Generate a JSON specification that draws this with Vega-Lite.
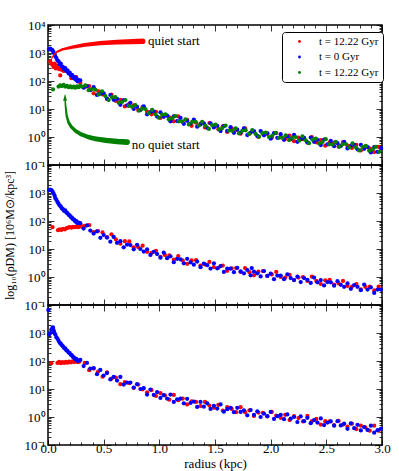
{
"$schema": "https://vega.github.io/schema/vega-lite/v6.json",
"autosize": {"type": "pad"},
"padding": {"left": 2, "top": 18, "right": 17, "bottom": 0},
"background": "white",
"bounds": "flush",
"spacing": 0,
"config": {
  "view": {"stroke": "black", "strokeWidth": 1.5},
  "font": "Liberation Serif",
  "axis": {"labelFont": "Liberation Serif", "labelFontSize": 13, "labelColor": "black", "titleFont": "Liberation Serif", "titleFontSize": 13, "titleFontWeight": "normal", "titleColor": "black", "tickColor": "black", "tickWidth": 0.8, "grid": false, "domain": false, "labelOverlap": false, "labelFlush": false, "labelBound": false}
},
"datasets": {
"pts": [
{"p":1,"s":"A","r":0.02,"l":2.7},{"p":1,"s":"A","r":0.03,"l":2.62},{"p":1,"s":"A","r":0.04,"l":2.58},{"p":1,"s":"A","r":0.05,"l":2.5},{"p":1,"s":"A","r":0.06,"l":2.62},{"p":1,"s":"A","r":0.07,"l":2.45},{"p":1,"s":"A","r":0.08,"l":2.55},{"p":1,"s":"A","r":0.09,"l":2.48},{"p":1,"s":"A","r":0.1,"l":2.42},{"p":1,"s":"A","r":0.11,"l":2.2},{"p":1,"s":"A","r":0.12,"l":2.4},{"p":1,"s":"A","r":0.13,"l":2.44},{"p":1,"s":"A","r":0.14,"l":2.36},{"p":1,"s":"A","r":0.15,"l":2.38},
{"p":1,"s":"A","r":0.17,"l":2.35},{"p":1,"s":"A","r":0.21,"l":2.1},{"p":1,"s":"A","r":0.25,"l":2.15},{"p":1,"s":"A","r":0.29,"l":1.93},{"p":1,"s":"A","r":0.33,"l":1.78},{"p":1,"s":"A","r":0.37,"l":1.82},{"p":1,"s":"A","r":0.41,"l":1.56},{"p":1,"s":"A","r":0.45,"l":1.64},{"p":1,"s":"A","r":0.49,"l":1.52},{"p":1,"s":"A","r":0.53,"l":1.36},{"p":1,"s":"A","r":0.57,"l":1.51},{"p":1,"s":"A","r":0.61,"l":1.29},{"p":1,"s":"A","r":0.65,"l":1.33},{"p":1,"s":"A","r":0.69,"l":1.09},{"p":1,"s":"A","r":0.73,"l":1.18},{"p":1,"s":"A","r":0.77,"l":1.13},{"p":1,"s":"A","r":0.81,"l":0.96},{"p":1,"s":"A","r":0.85,"l":1.08},{"p":1,"s":"A","r":0.89,"l":0.91},{"p":1,"s":"A","r":0.93,"l":0.81},{"p":1,"s":"A","r":0.97,"l":0.9},{"p":1,"s":"A","r":1.01,"l":0.68},{"p":1,"s":"A","r":1.05,"l":0.79},{"p":1,"s":"A","r":1.09,"l":0.7},{"p":1,"s":"A","r":1.13,"l":0.56},{"p":1,"s":"A","r":1.17,"l":0.74},{"p":1,"s":"A","r":1.21,"l":0.54},{"p":1,"s":"A","r":1.25,"l":0.61},{"p":1,"s":"A","r":1.29,"l":0.4},{"p":1,"s":"A","r":1.33,"l":0.51},{"p":1,"s":"A","r":1.37,"l":0.48},{"p":1,"s":"A","r":1.41,"l":0.34},{"p":1,"s":"A","r":1.45,"l":0.5},{"p":1,"s":"A","r":1.49,"l":0.36},{"p":1,"s":"A","r":1.53,"l":0.28},{"p":1,"s":"A","r":1.57,"l":0.38},{"p":1,"s":"A","r":1.61,"l":0.18},{"p":1,"s":"A","r":1.65,"l":0.31},{"p":1,"s":"A","r":1.69,"l":0.25},{"p":1,"s":"A","r":1.73,"l":0.12},{"p":1,"s":"A","r":1.77,"l":0.31},{"p":1,"s":"A","r":1.81,"l":0.12},{"p":1,"s":"A","r":1.85,"l":0.2},{"p":1,"s":"A","r":1.89,"l":0.0},{"p":1,"s":"A","r":1.93,"l":0.12},{"p":1,"s":"A","r":1.97,"l":0.11},{"p":1,"s":"A","r":2.01,"l":-0.03},{"p":1,"s":"A","r":2.05,"l":0.14},{"p":1,"s":"A","r":2.09,"l":0.0},{"p":1,"s":"A","r":2.13,"l":-0.07},{"p":1,"s":"A","r":2.17,"l":0.05},{"p":1,"s":"A","r":2.21,"l":-0.15},{"p":1,"s":"A","r":2.25,"l":-0.02},{"p":1,"s":"A","r":2.29,"l":-0.08},{"p":1,"s":"A","r":2.33,"l":-0.2},{"p":1,"s":"A","r":2.37,"l":0.0},{"p":1,"s":"A","r":2.41,"l":-0.19},{"p":1,"s":"A","r":2.45,"l":-0.11},{"p":1,"s":"A","r":2.49,"l":-0.31},{"p":1,"s":"A","r":2.53,"l":-0.19},{"p":1,"s":"A","r":2.57,"l":-0.2},{"p":1,"s":"A","r":2.61,"l":-0.34},{"p":1,"s":"A","r":2.65,"l":-0.18},{"p":1,"s":"A","r":2.69,"l":-0.31},{"p":1,"s":"A","r":2.73,"l":-0.39},{"p":1,"s":"A","r":2.77,"l":-0.28},{"p":1,"s":"A","r":2.81,"l":-0.48},{"p":1,"s":"A","r":2.85,"l":-0.35},{"p":1,"s":"A","r":2.89,"l":-0.41},{"p":1,"s":"A","r":2.93,"l":-0.54},{"p":1,"s":"A","r":2.97,"l":-0.35},
{"p":1,"s":"B","r":0.01,"l":3.13},{"p":1,"s":"B","r":0.02,"l":3.16},{"p":1,"s":"B","r":0.03,"l":3.12},{"p":1,"s":"B","r":0.04,"l":3.1},{"p":1,"s":"B","r":0.05,"l":3.03},{"p":1,"s":"B","r":0.06,"l":2.95},{"p":1,"s":"B","r":0.065,"l":2.88},{"p":1,"s":"B","r":0.075,"l":2.82},{"p":1,"s":"B","r":0.085,"l":2.74},{"p":1,"s":"B","r":0.095,"l":2.7},{"p":1,"s":"B","r":0.105,"l":2.6},{"p":1,"s":"B","r":0.115,"l":2.62},{"p":1,"s":"B","r":0.125,"l":2.52},{"p":1,"s":"B","r":0.135,"l":2.5},{"p":1,"s":"B","r":0.145,"l":2.42},{"p":1,"s":"B","r":0.155,"l":2.46},{"p":1,"s":"B","r":0.165,"l":2.36},{"p":1,"s":"B","r":0.175,"l":2.38},{"p":1,"s":"B","r":0.185,"l":2.27},{"p":1,"s":"B","r":0.195,"l":2.3},{"p":1,"s":"B","r":0.205,"l":2.2},{"p":1,"s":"B","r":0.215,"l":2.22},{"p":1,"s":"B","r":0.225,"l":2.12},{"p":1,"s":"B","r":0.235,"l":2.15},{"p":1,"s":"B","r":0.245,"l":2.06},{"p":1,"s":"B","r":0.255,"l":2.1},{"p":1,"s":"B","r":0.265,"l":1.99},{"p":1,"s":"B","r":0.275,"l":2.03},
{"p":1,"s":"B","r":0.29,"l":2.02},{"p":1,"s":"B","r":0.32,"l":1.76},{"p":1,"s":"B","r":0.35,"l":1.82},{"p":1,"s":"B","r":0.38,"l":1.67},{"p":1,"s":"B","r":0.41,"l":1.78},{"p":1,"s":"B","r":0.44,"l":1.5},{"p":1,"s":"B","r":0.47,"l":1.55},{"p":1,"s":"B","r":0.5,"l":1.56},{"p":1,"s":"B","r":0.53,"l":1.37},{"p":1,"s":"B","r":0.56,"l":1.5},{"p":1,"s":"B","r":0.59,"l":1.33},{"p":1,"s":"B","r":0.62,"l":1.36},{"p":1,"s":"B","r":0.65,"l":1.15},{"p":1,"s":"B","r":0.68,"l":1.32},{"p":1,"s":"B","r":0.71,"l":1.13},{"p":1,"s":"B","r":0.74,"l":1.22},{"p":1,"s":"B","r":0.77,"l":1.0},{"p":1,"s":"B","r":0.8,"l":1.08},{"p":1,"s":"B","r":0.83,"l":0.96},{"p":1,"s":"B","r":0.86,"l":1.09},{"p":1,"s":"B","r":0.89,"l":0.81},{"p":1,"s":"B","r":0.92,"l":0.89},{"p":1,"s":"B","r":0.95,"l":0.91},{"p":1,"s":"B","r":0.98,"l":0.73},{"p":1,"s":"B","r":1.01,"l":0.88},{"p":1,"s":"B","r":1.04,"l":0.72},{"p":1,"s":"B","r":1.07,"l":0.76},{"p":1,"s":"B","r":1.1,"l":0.56},{"p":1,"s":"B","r":1.13,"l":0.74},{"p":1,"s":"B","r":1.16,"l":0.57},{"p":1,"s":"B","r":1.19,"l":0.68},{"p":1,"s":"B","r":1.22,"l":0.47},{"p":1,"s":"B","r":1.25,"l":0.58},{"p":1,"s":"B","r":1.28,"l":0.48},{"p":1,"s":"B","r":1.31,"l":0.62},{"p":1,"s":"B","r":1.34,"l":0.37},{"p":1,"s":"B","r":1.37,"l":0.45},{"p":1,"s":"B","r":1.4,"l":0.49},{"p":1,"s":"B","r":1.43,"l":0.33},{"p":1,"s":"B","r":1.46,"l":0.49},{"p":1,"s":"B","r":1.49,"l":0.34},{"p":1,"s":"B","r":1.52,"l":0.4},{"p":1,"s":"B","r":1.55,"l":0.21},{"p":1,"s":"B","r":1.58,"l":0.39},{"p":1,"s":"B","r":1.61,"l":0.22},{"p":1,"s":"B","r":1.64,"l":0.35},{"p":1,"s":"B","r":1.67,"l":0.15},{"p":1,"s":"B","r":1.7,"l":0.26},{"p":1,"s":"B","r":1.73,"l":0.16},{"p":1,"s":"B","r":1.76,"l":0.31},{"p":1,"s":"B","r":1.79,"l":0.07},{"p":1,"s":"B","r":1.82,"l":0.16},{"p":1,"s":"B","r":1.85,"l":0.2},{"p":1,"s":"B","r":1.88,"l":0.04},{"p":1,"s":"B","r":1.91,"l":0.21},{"p":1,"s":"B","r":1.94,"l":0.06},{"p":1,"s":"B","r":1.97,"l":0.13},{"p":1,"s":"B","r":2.0,"l":-0.06},{"p":1,"s":"B","r":2.03,"l":0.14},{"p":1,"s":"B","r":2.06,"l":-0.03},{"p":1,"s":"B","r":2.09,"l":0.1},{"p":1,"s":"B","r":2.12,"l":-0.1},{"p":1,"s":"B","r":2.15,"l":0.02},{"p":1,"s":"B","r":2.18,"l":-0.08},{"p":1,"s":"B","r":2.21,"l":0.08},{"p":1,"s":"B","r":2.24,"l":-0.17},{"p":1,"s":"B","r":2.27,"l":-0.08},{"p":1,"s":"B","r":2.3,"l":-0.03},{"p":1,"s":"B","r":2.33,"l":-0.19},{"p":1,"s":"B","r":2.36,"l":-0.02},{"p":1,"s":"B","r":2.39,"l":-0.17},{"p":1,"s":"B","r":2.42,"l":-0.1},{"p":1,"s":"B","r":2.45,"l":-0.29},{"p":1,"s":"B","r":2.48,"l":-0.09},{"p":1,"s":"B","r":2.51,"l":-0.26},{"p":1,"s":"B","r":2.54,"l":-0.14},{"p":1,"s":"B","r":2.57,"l":-0.33},{"p":1,"s":"B","r":2.6,"l":-0.22},{"p":1,"s":"B","r":2.63,"l":-0.32},{"p":1,"s":"B","r":2.66,"l":-0.17},{"p":1,"s":"B","r":2.69,"l":-0.41},{"p":1,"s":"B","r":2.72,"l":-0.32},{"p":1,"s":"B","r":2.75,"l":-0.28},{"p":1,"s":"B","r":2.78,"l":-0.44},{"p":1,"s":"B","r":2.81,"l":-0.28},{"p":1,"s":"B","r":2.84,"l":-0.42},{"p":1,"s":"B","r":2.87,"l":-0.36},{"p":1,"s":"B","r":2.9,"l":-0.55},{"p":1,"s":"B","r":2.93,"l":-0.36},{"p":1,"s":"B","r":2.96,"l":-0.53},{"p":1,"s":"B","r":2.99,"l":-0.4},
{"p":1,"s":"C","r":0.045,"l":1.7},{"p":1,"s":"C","r":0.095,"l":1.8},{"p":1,"s":"C","r":0.11,"l":1.84},{"p":1,"s":"C","r":0.125,"l":1.82},{"p":1,"s":"C","r":0.14,"l":1.86},{"p":1,"s":"C","r":0.155,"l":1.8},{"p":1,"s":"C","r":0.17,"l":1.83},{"p":1,"s":"C","r":0.185,"l":1.78},{"p":1,"s":"C","r":0.2,"l":1.81},{"p":1,"s":"C","r":0.215,"l":1.77},{"p":1,"s":"C","r":0.23,"l":1.8},{"p":1,"s":"C","r":0.245,"l":1.76},{"p":1,"s":"C","r":0.26,"l":1.81},{"p":1,"s":"C","r":0.275,"l":1.78},{"p":1,"s":"C","r":0.29,"l":1.83},
{"p":1,"s":"C","r":0.305,"l":1.8},{"p":1,"s":"C","r":0.335,"l":1.84},{"p":1,"s":"C","r":0.365,"l":1.67},{"p":1,"s":"C","r":0.395,"l":1.71},{"p":1,"s":"C","r":0.425,"l":1.69},{"p":1,"s":"C","r":0.455,"l":1.52},{"p":1,"s":"C","r":0.485,"l":1.63},{"p":1,"s":"C","r":0.515,"l":1.46},{"p":1,"s":"C","r":0.545,"l":1.32},{"p":1,"s":"C","r":0.575,"l":1.42},{"p":1,"s":"C","r":0.605,"l":1.42},{"p":1,"s":"C","r":0.635,"l":1.22},{"p":1,"s":"C","r":0.665,"l":1.25},{"p":1,"s":"C","r":0.695,"l":1.32},{"p":1,"s":"C","r":0.725,"l":1.11},{"p":1,"s":"C","r":0.755,"l":1.08},{"p":1,"s":"C","r":0.785,"l":1.14},{"p":1,"s":"C","r":0.815,"l":0.94},{"p":1,"s":"C","r":0.845,"l":1.01},{"p":1,"s":"C","r":0.875,"l":1.0},{"p":1,"s":"C","r":0.905,"l":0.85},{"p":1,"s":"C","r":0.935,"l":0.97},{"p":1,"s":"C","r":0.965,"l":0.81},{"p":1,"s":"C","r":0.995,"l":0.69},{"p":1,"s":"C","r":1.025,"l":0.8},{"p":1,"s":"C","r":1.055,"l":0.81},{"p":1,"s":"C","r":1.085,"l":0.63},{"p":1,"s":"C","r":1.115,"l":0.67},{"p":1,"s":"C","r":1.145,"l":0.75},{"p":1,"s":"C","r":1.175,"l":0.56},{"p":1,"s":"C","r":1.205,"l":0.55},{"p":1,"s":"C","r":1.235,"l":0.63},{"p":1,"s":"C","r":1.265,"l":0.45},{"p":1,"s":"C","r":1.295,"l":0.54},{"p":1,"s":"C","r":1.325,"l":0.54},{"p":1,"s":"C","r":1.355,"l":0.41},{"p":1,"s":"C","r":1.385,"l":0.54},{"p":1,"s":"C","r":1.415,"l":0.4},{"p":1,"s":"C","r":1.445,"l":0.29},{"p":1,"s":"C","r":1.475,"l":0.42},{"p":1,"s":"C","r":1.505,"l":0.44},{"p":1,"s":"C","r":1.535,"l":0.27},{"p":1,"s":"C","r":1.565,"l":0.32},{"p":1,"s":"C","r":1.595,"l":0.41},{"p":1,"s":"C","r":1.625,"l":0.23},{"p":1,"s":"C","r":1.655,"l":0.22},{"p":1,"s":"C","r":1.685,"l":0.31},{"p":1,"s":"C","r":1.715,"l":0.13},{"p":1,"s":"C","r":1.745,"l":0.22},{"p":1,"s":"C","r":1.775,"l":0.24},{"p":1,"s":"C","r":1.805,"l":0.11},{"p":1,"s":"C","r":1.835,"l":0.25},{"p":1,"s":"C","r":1.865,"l":0.11},{"p":1,"s":"C","r":1.895,"l":0.01},{"p":1,"s":"C","r":1.925,"l":0.14},{"p":1,"s":"C","r":1.955,"l":0.16},{"p":1,"s":"C","r":1.985,"l":0.0},{"p":1,"s":"C","r":2.015,"l":0.05},{"p":1,"s":"C","r":2.045,"l":0.15},{"p":1,"s":"C","r":2.075,"l":-0.03},{"p":1,"s":"C","r":2.105,"l":-0.03},{"p":1,"s":"C","r":2.135,"l":0.06},{"p":1,"s":"C","r":2.165,"l":-0.11},{"p":1,"s":"C","r":2.195,"l":-0.02},{"p":1,"s":"C","r":2.225,"l":0.0},{"p":1,"s":"C","r":2.255,"l":-0.13},{"p":1,"s":"C","r":2.285,"l":0.02},{"p":1,"s":"C","r":2.315,"l":-0.12},{"p":1,"s":"C","r":2.345,"l":-0.22},{"p":1,"s":"C","r":2.375,"l":-0.09},{"p":1,"s":"C","r":2.405,"l":-0.06},{"p":1,"s":"C","r":2.435,"l":-0.23},{"p":1,"s":"C","r":2.465,"l":-0.18},{"p":1,"s":"C","r":2.495,"l":-0.08},{"p":1,"s":"C","r":2.525,"l":-0.26},{"p":1,"s":"C","r":2.555,"l":-0.27},{"p":1,"s":"C","r":2.585,"l":-0.17},{"p":1,"s":"C","r":2.615,"l":-0.35},{"p":1,"s":"C","r":2.645,"l":-0.26},{"p":1,"s":"C","r":2.675,"l":-0.25},{"p":1,"s":"C","r":2.705,"l":-0.37},{"p":1,"s":"C","r":2.735,"l":-0.23},{"p":1,"s":"C","r":2.765,"l":-0.37},{"p":1,"s":"C","r":2.795,"l":-0.48},{"p":1,"s":"C","r":2.825,"l":-0.35},{"p":1,"s":"C","r":2.855,"l":-0.32},{"p":1,"s":"C","r":2.885,"l":-0.49},{"p":1,"s":"C","r":2.915,"l":-0.44},{"p":1,"s":"C","r":2.945,"l":-0.35},{"p":1,"s":"C","r":2.975,"l":-0.53},
{"p":2,"s":"A","r":0.04,"l":1.78},{"p":2,"s":"A","r":0.09,"l":1.67},{"p":2,"s":"A","r":0.105,"l":1.7},{"p":2,"s":"A","r":0.12,"l":1.68},{"p":2,"s":"A","r":0.135,"l":1.72},{"p":2,"s":"A","r":0.15,"l":1.7},{"p":2,"s":"A","r":0.165,"l":1.74},{"p":2,"s":"A","r":0.18,"l":1.76},{"p":2,"s":"A","r":0.195,"l":1.78},{"p":2,"s":"A","r":0.21,"l":1.76},{"p":2,"s":"A","r":0.225,"l":1.79},{"p":2,"s":"A","r":0.24,"l":1.78},{"p":2,"s":"A","r":0.255,"l":1.8},{"p":2,"s":"A","r":0.27,"l":1.78},{"p":2,"s":"A","r":0.285,"l":1.8},{"p":2,"s":"A","r":0.3,"l":1.82},{"p":2,"s":"A","r":0.315,"l":1.78},
{"p":2,"s":"A","r":0.33,"l":1.83},{"p":2,"s":"A","r":0.37,"l":1.85},{"p":2,"s":"A","r":0.41,"l":1.6},{"p":2,"s":"A","r":0.45,"l":1.64},{"p":2,"s":"A","r":0.49,"l":1.59},{"p":2,"s":"A","r":0.53,"l":1.42},{"p":2,"s":"A","r":0.57,"l":1.52},{"p":2,"s":"A","r":0.61,"l":1.34},{"p":2,"s":"A","r":0.65,"l":1.19},{"p":2,"s":"A","r":0.69,"l":1.28},{"p":2,"s":"A","r":0.73,"l":1.27},{"p":2,"s":"A","r":0.77,"l":1.06},{"p":2,"s":"A","r":0.81,"l":1.07},{"p":2,"s":"A","r":0.85,"l":1.12},{"p":2,"s":"A","r":0.89,"l":0.9},{"p":2,"s":"A","r":0.93,"l":0.86},{"p":2,"s":"A","r":0.97,"l":0.93},{"p":2,"s":"A","r":1.01,"l":0.72},{"p":2,"s":"A","r":1.05,"l":0.79},{"p":2,"s":"A","r":1.09,"l":0.77},{"p":2,"s":"A","r":1.13,"l":0.62},{"p":2,"s":"A","r":1.17,"l":0.75},{"p":2,"s":"A","r":1.21,"l":0.59},{"p":2,"s":"A","r":1.25,"l":0.47},{"p":2,"s":"A","r":1.29,"l":0.59},{"p":2,"s":"A","r":1.33,"l":0.6},{"p":2,"s":"A","r":1.37,"l":0.41},{"p":2,"s":"A","r":1.41,"l":0.45},{"p":2,"s":"A","r":1.45,"l":0.54},{"p":2,"s":"A","r":1.49,"l":0.35},{"p":2,"s":"A","r":1.53,"l":0.33},{"p":2,"s":"A","r":1.57,"l":0.41},{"p":2,"s":"A","r":1.61,"l":0.22},{"p":2,"s":"A","r":1.65,"l":0.31},{"p":2,"s":"A","r":1.69,"l":0.32},{"p":2,"s":"A","r":1.73,"l":0.18},{"p":2,"s":"A","r":1.77,"l":0.32},{"p":2,"s":"A","r":1.81,"l":0.17},{"p":2,"s":"A","r":1.85,"l":0.06},{"p":2,"s":"A","r":1.89,"l":0.19},{"p":2,"s":"A","r":1.93,"l":0.21},{"p":2,"s":"A","r":1.97,"l":0.04},{"p":2,"s":"A","r":2.01,"l":0.09},{"p":2,"s":"A","r":2.05,"l":0.18},{"p":2,"s":"A","r":2.09,"l":0.0},{"p":2,"s":"A","r":2.13,"l":-0.02},{"p":2,"s":"A","r":2.17,"l":0.08},{"p":2,"s":"A","r":2.21,"l":-0.11},{"p":2,"s":"A","r":2.25,"l":-0.02},{"p":2,"s":"A","r":2.29,"l":0.0},{"p":2,"s":"A","r":2.33,"l":-0.14},{"p":2,"s":"A","r":2.37,"l":0.01},{"p":2,"s":"A","r":2.41,"l":-0.14},{"p":2,"s":"A","r":2.45,"l":-0.25},{"p":2,"s":"A","r":2.49,"l":-0.12},{"p":2,"s":"A","r":2.53,"l":-0.1},{"p":2,"s":"A","r":2.57,"l":-0.27},{"p":2,"s":"A","r":2.61,"l":-0.23},{"p":2,"s":"A","r":2.65,"l":-0.14},{"p":2,"s":"A","r":2.69,"l":-0.32},{"p":2,"s":"A","r":2.73,"l":-0.34},{"p":2,"s":"A","r":2.77,"l":-0.25},{"p":2,"s":"A","r":2.81,"l":-0.44},{"p":2,"s":"A","r":2.85,"l":-0.35},{"p":2,"s":"A","r":2.89,"l":-0.34},{"p":2,"s":"A","r":2.93,"l":-0.48},{"p":2,"s":"A","r":2.97,"l":-0.34},
{"p":2,"s":"B","r":0.01,"l":3.1},{"p":2,"s":"B","r":0.02,"l":3.12},{"p":2,"s":"B","r":0.03,"l":3.1},{"p":2,"s":"B","r":0.04,"l":3.06},{"p":2,"s":"B","r":0.05,"l":2.98},{"p":2,"s":"B","r":0.06,"l":2.9},{"p":2,"s":"B","r":0.065,"l":2.82},{"p":2,"s":"B","r":0.075,"l":2.76},{"p":2,"s":"B","r":0.085,"l":2.68},{"p":2,"s":"B","r":0.095,"l":2.62},{"p":2,"s":"B","r":0.105,"l":2.55},{"p":2,"s":"B","r":0.115,"l":2.52},{"p":2,"s":"B","r":0.125,"l":2.45},{"p":2,"s":"B","r":0.135,"l":2.42},{"p":2,"s":"B","r":0.145,"l":2.36},{"p":2,"s":"B","r":0.155,"l":2.38},{"p":2,"s":"B","r":0.165,"l":2.3},{"p":2,"s":"B","r":0.175,"l":2.28},{"p":2,"s":"B","r":0.185,"l":2.22},{"p":2,"s":"B","r":0.195,"l":2.2},{"p":2,"s":"B","r":0.205,"l":2.14},{"p":2,"s":"B","r":0.215,"l":2.12},{"p":2,"s":"B","r":0.225,"l":2.06},{"p":2,"s":"B","r":0.235,"l":2.05},{"p":2,"s":"B","r":0.245,"l":1.98},{"p":2,"s":"B","r":0.255,"l":2.0},{"p":2,"s":"B","r":0.265,"l":1.92},{"p":2,"s":"B","r":0.275,"l":1.94},
{"p":2,"s":"B","r":0.29,"l":1.92},{"p":2,"s":"B","r":0.32,"l":1.73},{"p":2,"s":"B","r":0.35,"l":1.84},{"p":2,"s":"B","r":0.38,"l":1.66},{"p":2,"s":"B","r":0.41,"l":1.55},{"p":2,"s":"B","r":0.44,"l":1.63},{"p":2,"s":"B","r":0.47,"l":1.4},{"p":2,"s":"B","r":0.5,"l":1.5},{"p":2,"s":"B","r":0.53,"l":1.41},{"p":2,"s":"B","r":0.56,"l":1.26},{"p":2,"s":"B","r":0.59,"l":1.43},{"p":2,"s":"B","r":0.62,"l":1.22},{"p":2,"s":"B","r":0.65,"l":1.28},{"p":2,"s":"B","r":0.68,"l":1.06},{"p":2,"s":"B","r":0.71,"l":1.16},{"p":2,"s":"B","r":0.74,"l":1.14},{"p":2,"s":"B","r":0.77,"l":0.99},{"p":2,"s":"B","r":0.8,"l":1.15},{"p":2,"s":"B","r":0.83,"l":1.0},{"p":2,"s":"B","r":0.86,"l":0.91},{"p":2,"s":"B","r":0.89,"l":0.99},{"p":2,"s":"B","r":0.92,"l":0.79},{"p":2,"s":"B","r":0.95,"l":0.9},{"p":2,"s":"B","r":0.98,"l":0.82},{"p":2,"s":"B","r":1.01,"l":0.69},{"p":2,"s":"B","r":1.04,"l":0.87},{"p":2,"s":"B","r":1.07,"l":0.67},{"p":2,"s":"B","r":1.1,"l":0.74},{"p":2,"s":"B","r":1.13,"l":0.53},{"p":2,"s":"B","r":1.16,"l":0.65},{"p":2,"s":"B","r":1.19,"l":0.63},{"p":2,"s":"B","r":1.22,"l":0.49},{"p":2,"s":"B","r":1.25,"l":0.65},{"p":2,"s":"B","r":1.28,"l":0.52},{"p":2,"s":"B","r":1.31,"l":0.44},{"p":2,"s":"B","r":1.34,"l":0.55},{"p":2,"s":"B","r":1.37,"l":0.35},{"p":2,"s":"B","r":1.4,"l":0.48},{"p":2,"s":"B","r":1.43,"l":0.42},{"p":2,"s":"B","r":1.46,"l":0.3},{"p":2,"s":"B","r":1.49,"l":0.49},{"p":2,"s":"B","r":1.52,"l":0.31},{"p":2,"s":"B","r":1.55,"l":0.39},{"p":2,"s":"B","r":1.58,"l":0.18},{"p":2,"s":"B","r":1.61,"l":0.3},{"p":2,"s":"B","r":1.64,"l":0.3},{"p":2,"s":"B","r":1.67,"l":0.17},{"p":2,"s":"B","r":1.7,"l":0.33},{"p":2,"s":"B","r":1.73,"l":0.2},{"p":2,"s":"B","r":1.76,"l":0.13},{"p":2,"s":"B","r":1.79,"l":0.25},{"p":2,"s":"B","r":1.82,"l":0.06},{"p":2,"s":"B","r":1.83,"l":0.32},{"p":2,"s":"B","r":1.85,"l":0.19},{"p":2,"s":"B","r":1.88,"l":0.13},{"p":2,"s":"B","r":1.91,"l":0.02},{"p":2,"s":"B","r":1.94,"l":0.21},{"p":2,"s":"B","r":1.97,"l":0.04},{"p":2,"s":"B","r":2.0,"l":0.12},{"p":2,"s":"B","r":2.03,"l":-0.08},{"p":2,"s":"B","r":2.06,"l":0.05},{"p":2,"s":"B","r":2.09,"l":0.05},{"p":2,"s":"B","r":2.12,"l":-0.08},{"p":2,"s":"B","r":2.15,"l":0.09},{"p":2,"s":"B","r":2.18,"l":-0.04},{"p":2,"s":"B","r":2.21,"l":-0.11},{"p":2,"s":"B","r":2.24,"l":0.01},{"p":2,"s":"B","r":2.27,"l":-0.18},{"p":2,"s":"B","r":2.3,"l":-0.04},{"p":2,"s":"B","r":2.33,"l":-0.1},{"p":2,"s":"B","r":2.36,"l":-0.21},{"p":2,"s":"B","r":2.39,"l":-0.02},{"p":2,"s":"B","r":2.42,"l":-0.19},{"p":2,"s":"B","r":2.45,"l":-0.11},{"p":2,"s":"B","r":2.48,"l":-0.3},{"p":2,"s":"B","r":2.51,"l":-0.18},{"p":2,"s":"B","r":2.54,"l":-0.19},{"p":2,"s":"B","r":2.57,"l":-0.31},{"p":2,"s":"B","r":2.6,"l":-0.15},{"p":2,"s":"B","r":2.63,"l":-0.28},{"p":2,"s":"B","r":2.66,"l":-0.35},{"p":2,"s":"B","r":2.69,"l":-0.23},{"p":2,"s":"B","r":2.72,"l":-0.42},{"p":2,"s":"B","r":2.75,"l":-0.29},{"p":2,"s":"B","r":2.78,"l":-0.35},{"p":2,"s":"B","r":2.81,"l":-0.47},{"p":2,"s":"B","r":2.84,"l":-0.27},{"p":2,"s":"B","r":2.87,"l":-0.45},{"p":2,"s":"B","r":2.9,"l":-0.37},{"p":2,"s":"B","r":2.93,"l":-0.57},{"p":2,"s":"B","r":2.96,"l":-0.45},{"p":2,"s":"B","r":2.99,"l":-0.45},
{"p":3,"s":"A","r":0.03,"l":1.92},{"p":3,"s":"A","r":0.085,"l":1.93},{"p":3,"s":"A","r":0.1,"l":1.97},{"p":3,"s":"A","r":0.115,"l":1.92},{"p":3,"s":"A","r":0.13,"l":1.96},{"p":3,"s":"A","r":0.145,"l":1.93},{"p":3,"s":"A","r":0.16,"l":1.97},{"p":3,"s":"A","r":0.175,"l":1.94},{"p":3,"s":"A","r":0.19,"l":1.98},{"p":3,"s":"A","r":0.205,"l":1.95},{"p":3,"s":"A","r":0.22,"l":1.99},{"p":3,"s":"A","r":0.235,"l":1.96},{"p":3,"s":"A","r":0.25,"l":2.0},{"p":3,"s":"A","r":0.265,"l":1.96},{"p":3,"s":"A","r":0.28,"l":1.97},
{"p":3,"s":"A","r":0.33,"l":1.93},{"p":3,"s":"A","r":0.37,"l":1.67},{"p":3,"s":"A","r":0.41,"l":1.73},{"p":3,"s":"A","r":0.45,"l":1.62},{"p":3,"s":"A","r":0.49,"l":1.44},{"p":3,"s":"A","r":0.53,"l":1.59},{"p":3,"s":"A","r":0.57,"l":1.37},{"p":3,"s":"A","r":0.61,"l":1.41},{"p":3,"s":"A","r":0.65,"l":1.17},{"p":3,"s":"A","r":0.69,"l":1.25},{"p":3,"s":"A","r":0.73,"l":1.21},{"p":3,"s":"A","r":0.77,"l":1.04},{"p":3,"s":"A","r":0.81,"l":1.16},{"p":3,"s":"A","r":0.85,"l":0.99},{"p":3,"s":"A","r":0.89,"l":0.88},{"p":3,"s":"A","r":0.93,"l":0.96},{"p":3,"s":"A","r":0.97,"l":0.75},{"p":3,"s":"A","r":1.01,"l":0.85},{"p":3,"s":"A","r":1.05,"l":0.77},{"p":3,"s":"A","r":1.09,"l":0.62},{"p":3,"s":"A","r":1.13,"l":0.79},{"p":3,"s":"A","r":1.17,"l":0.6},{"p":3,"s":"A","r":1.21,"l":0.66},{"p":3,"s":"A","r":1.25,"l":0.45},{"p":3,"s":"A","r":1.29,"l":0.56},{"p":3,"s":"A","r":1.33,"l":0.54},{"p":3,"s":"A","r":1.37,"l":0.39},{"p":3,"s":"A","r":1.41,"l":0.54},{"p":3,"s":"A","r":1.45,"l":0.41},{"p":3,"s":"A","r":1.49,"l":0.33},{"p":3,"s":"A","r":1.53,"l":0.43},{"p":3,"s":"A","r":1.57,"l":0.23},{"p":3,"s":"A","r":1.61,"l":0.35},{"p":3,"s":"A","r":1.65,"l":0.29},{"p":3,"s":"A","r":1.69,"l":0.17},{"p":3,"s":"A","r":1.73,"l":0.35},{"p":3,"s":"A","r":1.77,"l":0.17},{"p":3,"s":"A","r":1.81,"l":0.24},{"p":3,"s":"A","r":1.85,"l":0.04},{"p":3,"s":"A","r":1.89,"l":0.16},{"p":3,"s":"A","r":1.93,"l":0.15},{"p":3,"s":"A","r":1.97,"l":0.02},{"p":3,"s":"A","r":2.01,"l":0.18},{"p":3,"s":"A","r":2.05,"l":0.05},{"p":3,"s":"A","r":2.09,"l":-0.03},{"p":3,"s":"A","r":2.13,"l":0.08},{"p":3,"s":"A","r":2.17,"l":-0.11},{"p":3,"s":"A","r":2.21,"l":0.03},{"p":3,"s":"A","r":2.25,"l":-0.04},{"p":3,"s":"A","r":2.29,"l":-0.16},{"p":3,"s":"A","r":2.33,"l":0.04},{"p":3,"s":"A","r":2.37,"l":-0.15},{"p":3,"s":"A","r":2.41,"l":-0.07},{"p":3,"s":"A","r":2.45,"l":-0.27},{"p":3,"s":"A","r":2.49,"l":-0.15},{"p":3,"s":"A","r":2.53,"l":-0.16},{"p":3,"s":"A","r":2.57,"l":-0.29},{"p":3,"s":"A","r":2.61,"l":-0.14},{"p":3,"s":"A","r":2.65,"l":-0.27},{"p":3,"s":"A","r":2.69,"l":-0.34},{"p":3,"s":"A","r":2.73,"l":-0.24},{"p":3,"s":"A","r":2.77,"l":-0.43},{"p":3,"s":"A","r":2.81,"l":-0.31},{"p":3,"s":"A","r":2.85,"l":-0.37},{"p":3,"s":"A","r":2.89,"l":-0.49},{"p":3,"s":"A","r":2.93,"l":-0.31},{"p":3,"s":"A","r":2.97,"l":-0.49},
{"p":3,"s":"B","r":0.003,"l":3.82},{"p":3,"s":"B","r":0.01,"l":2.95},{"p":3,"s":"B","r":0.02,"l":3.0},{"p":3,"s":"B","r":0.03,"l":3.12},{"p":3,"s":"B","r":0.04,"l":3.18},{"p":3,"s":"B","r":0.045,"l":3.2},{"p":3,"s":"B","r":0.05,"l":3.1},{"p":3,"s":"B","r":0.055,"l":3.02},{"p":3,"s":"B","r":0.065,"l":2.95},{"p":3,"s":"B","r":0.075,"l":2.85},{"p":3,"s":"B","r":0.085,"l":2.8},{"p":3,"s":"B","r":0.095,"l":2.72},{"p":3,"s":"B","r":0.105,"l":2.65},{"p":3,"s":"B","r":0.115,"l":2.62},{"p":3,"s":"B","r":0.125,"l":2.56},{"p":3,"s":"B","r":0.135,"l":2.52},{"p":3,"s":"B","r":0.145,"l":2.46},{"p":3,"s":"B","r":0.155,"l":2.45},{"p":3,"s":"B","r":0.165,"l":2.38},{"p":3,"s":"B","r":0.175,"l":2.36},{"p":3,"s":"B","r":0.185,"l":2.3},{"p":3,"s":"B","r":0.195,"l":2.28},{"p":3,"s":"B","r":0.205,"l":2.22},{"p":3,"s":"B","r":0.215,"l":2.2},{"p":3,"s":"B","r":0.225,"l":2.14},{"p":3,"s":"B","r":0.235,"l":2.12},{"p":3,"s":"B","r":0.245,"l":2.06},{"p":3,"s":"B","r":0.255,"l":2.08},{"p":3,"s":"B","r":0.265,"l":2.0},{"p":3,"s":"B","r":0.275,"l":2.01},
{"p":3,"s":"B","r":0.29,"l":2.04},{"p":3,"s":"B","r":0.32,"l":1.82},{"p":3,"s":"B","r":0.35,"l":1.93},{"p":3,"s":"B","r":0.38,"l":1.73},{"p":3,"s":"B","r":0.41,"l":1.75},{"p":3,"s":"B","r":0.44,"l":1.53},{"p":3,"s":"B","r":0.47,"l":1.68},{"p":3,"s":"B","r":0.5,"l":1.48},{"p":3,"s":"B","r":0.53,"l":1.57},{"p":3,"s":"B","r":0.56,"l":1.34},{"p":3,"s":"B","r":0.59,"l":1.43},{"p":3,"s":"B","r":0.62,"l":1.3},{"p":3,"s":"B","r":0.65,"l":1.43},{"p":3,"s":"B","r":0.68,"l":1.16},{"p":3,"s":"B","r":0.71,"l":1.23},{"p":3,"s":"B","r":0.74,"l":1.23},{"p":3,"s":"B","r":0.77,"l":1.05},{"p":3,"s":"B","r":0.8,"l":1.17},{"p":3,"s":"B","r":0.83,"l":1.0},{"p":3,"s":"B","r":0.86,"l":1.03},{"p":3,"s":"B","r":0.89,"l":0.8},{"p":3,"s":"B","r":0.92,"l":0.98},{"p":3,"s":"B","r":0.95,"l":0.79},{"p":3,"s":"B","r":0.98,"l":0.89},{"p":3,"s":"B","r":1.01,"l":0.68},{"p":3,"s":"B","r":1.04,"l":0.78},{"p":3,"s":"B","r":1.07,"l":0.66},{"p":3,"s":"B","r":1.1,"l":0.8},{"p":3,"s":"B","r":1.13,"l":0.54},{"p":3,"s":"B","r":1.16,"l":0.63},{"p":3,"s":"B","r":1.19,"l":0.66},{"p":3,"s":"B","r":1.22,"l":0.49},{"p":3,"s":"B","r":1.25,"l":0.65},{"p":3,"s":"B","r":1.28,"l":0.5},{"p":3,"s":"B","r":1.31,"l":0.55},{"p":3,"s":"B","r":1.34,"l":0.36},{"p":3,"s":"B","r":1.37,"l":0.54},{"p":3,"s":"B","r":1.4,"l":0.37},{"p":3,"s":"B","r":1.43,"l":0.49},{"p":3,"s":"B","r":1.46,"l":0.29},{"p":3,"s":"B","r":1.49,"l":0.4},{"p":3,"s":"B","r":1.52,"l":0.3},{"p":3,"s":"B","r":1.55,"l":0.45},{"p":3,"s":"B","r":1.58,"l":0.19},{"p":3,"s":"B","r":1.61,"l":0.28},{"p":3,"s":"B","r":1.64,"l":0.33},{"p":3,"s":"B","r":1.67,"l":0.17},{"p":3,"s":"B","r":1.7,"l":0.33},{"p":3,"s":"B","r":1.73,"l":0.18},{"p":3,"s":"B","r":1.76,"l":0.24},{"p":3,"s":"B","r":1.79,"l":0.06},{"p":3,"s":"B","r":1.82,"l":0.25},{"p":3,"s":"B","r":1.85,"l":0.08},{"p":3,"s":"B","r":1.88,"l":0.2},{"p":3,"s":"B","r":1.91,"l":0.0},{"p":3,"s":"B","r":1.94,"l":0.12},{"p":3,"s":"B","r":1.97,"l":0.03},{"p":3,"s":"B","r":2.0,"l":0.18},{"p":3,"s":"B","r":2.03,"l":-0.07},{"p":3,"s":"B","r":2.06,"l":0.03},{"p":3,"s":"B","r":2.09,"l":0.08},{"p":3,"s":"B","r":2.12,"l":-0.08},{"p":3,"s":"B","r":2.15,"l":0.09},{"p":3,"s":"B","r":2.18,"l":-0.06},{"p":3,"s":"B","r":2.21,"l":0.0},{"p":3,"s":"B","r":2.24,"l":-0.18},{"p":3,"s":"B","r":2.27,"l":0.02},{"p":3,"s":"B","r":2.3,"l":-0.15},{"p":3,"s":"B","r":2.33,"l":-0.03},{"p":3,"s":"B","r":2.36,"l":-0.22},{"p":3,"s":"B","r":2.39,"l":-0.11},{"p":3,"s":"B","r":2.42,"l":-0.2},{"p":3,"s":"B","r":2.45,"l":-0.05},{"p":3,"s":"B","r":2.48,"l":-0.29},{"p":3,"s":"B","r":2.51,"l":-0.2},{"p":3,"s":"B","r":2.54,"l":-0.16},{"p":3,"s":"B","r":2.57,"l":-0.31},{"p":3,"s":"B","r":2.6,"l":-0.15},{"p":3,"s":"B","r":2.63,"l":-0.3},{"p":3,"s":"B","r":2.66,"l":-0.24},{"p":3,"s":"B","r":2.69,"l":-0.42},{"p":3,"s":"B","r":2.72,"l":-0.23},{"p":3,"s":"B","r":2.75,"l":-0.4},{"p":3,"s":"B","r":2.78,"l":-0.28},{"p":3,"s":"B","r":2.81,"l":-0.48},{"p":3,"s":"B","r":2.84,"l":-0.36},{"p":3,"s":"B","r":2.87,"l":-0.46},{"p":3,"s":"B","r":2.9,"l":-0.31},{"p":3,"s":"B","r":2.93,"l":-0.56},{"p":3,"s":"B","r":2.96,"l":-0.47},{"p":3,"s":"B","r":2.99,"l":-0.42}
],
"ra": [
{"o":1,"r":0.027,"l":2.75,"w":0.6},{"o":2,"r":0.05,"l":2.92,"w":1.3},{"o":3,"r":0.08,"l":3.04,"w":1.9},{"o":4,"r":0.13,"l":3.13,"w":2.5},{"o":5,"r":0.22,"l":3.21,"w":3.1},{"o":6,"r":0.33,"l":3.29,"w":3.7},{"o":7,"r":0.47,"l":3.35,"w":4.3},{"o":8,"r":0.62,"l":3.39,"w":4.9},{"o":9,"r":0.85,"l":3.42,"w":5.6}
],
"ga": [
{"o":1,"r":0.153,"l":1.38,"w":1.3},{"o":2,"r":0.158,"l":1.1,"w":1.8},{"o":3,"r":0.168,"l":0.75,"w":2.3},{"o":4,"r":0.185,"l":0.52,"w":2.8},{"o":5,"r":0.21,"l":0.36,"w":3.2},{"o":6,"r":0.25,"l":0.21,"w":3.6},{"o":7,"r":0.3,"l":0.09,"w":4.0},{"o":8,"r":0.36,"l":0.0,"w":4.4},{"o":9,"r":0.43,"l":-0.07,"w":4.8},{"o":10,"r":0.52,"l":-0.12,"w":5.1},{"o":11,"r":0.62,"l":-0.16,"w":5.4},{"o":12,"r":0.71,"l":-0.18,"w":5.7}
],
"gh": [{"r":0.153,"l":1.42}],
"txt": [{"r":0.898,"l":3.43,"t":"quiet start"},{"r":0.752,"l":-0.29,"t":"no quiet start"}]
},
"vconcat": [
{
"width": 334, "height": 140,
"resolve": {"axis": {"x": "independent", "y": "independent"}},
"layer": [
{"data": {"name": "pts"}, "transform": [{"filter": "datum.p == 1"}],
 "mark": {"type": "point", "filled": true, "size": 18, "opacity": 1, "strokeWidth": 0},
 "encoding": {
  "x": {"field": "r", "type": "quantitative", "scale": {"domain": [0, 3], "nice": false, "zero": false},
        "axis": {"orient": "bottom", "values": [0,0.1,0.2,0.3,0.4,0.5,0.6,0.7,0.8,0.9,1,1.1,1.2,1.3,1.4,1.5,1.6,1.7,1.8,1.9,2,2.1,2.2,2.3,2.4,2.5,2.6,2.7,2.8,2.9,3], "labels": false, "title": null,
                 "tickSize": {"condition": {"test": "abs(datum.value*2-round(datum.value*2))<0.001", "value": -6}, "value": -3}}},
  "y": {"field": "l", "type": "quantitative", "scale": {"domain": [-1, 4], "nice": false, "zero": false},
        "axis": {"orient": "left", "values": [-1,-0.69897,-0.52288,-0.39794,-0.30103,-0.22185,-0.1549,-0.09691,-0.04576,0,0.30103,0.47712,0.60206,0.69897,0.77815,0.8451,0.90309,0.95424,1,1.30103,1.47712,1.60206,1.69897,1.77815,1.8451,1.90309,1.95424,2,2.30103,2.47712,2.60206,2.69897,2.77815,2.8451,2.90309,2.95424,3,3.30103,3.47712,3.60206,3.69897,3.77815,3.8451,3.90309,3.95424,4], "title": null,
                 "labelExpr": "abs(datum.value-round(datum.value))<0.001 ? (round(datum.value)==-1?'10⁻¹':round(datum.value)==0?'10⁰':round(datum.value)==1?'10¹':round(datum.value)==2?'10²':round(datum.value)==3?'10³':'10⁴') : ''",
                 "labelPadding": 9,
                 "tickSize": {"condition": {"test": "abs(datum.value-round(datum.value))<0.001", "value": -6}, "value": -3}}},
  "color": {"field": "s", "type": "nominal", "scale": {"domain": ["A", "B", "C"], "range": ["#ff0000", "#0000ff", "#008000"]},
            "legend": {"title": null, "orient": "none", "legendX": 234, "legendY": 7, "labelExpr": "datum.label == 'B' ? 't = 0 Gyr' : 't = 12.22 Gyr'", "labelFont": "Liberation Serif", "labelFontSize": 11, "labelColor": "black", "symbolType": "circle", "symbolSize": 8, "symbolStrokeWidth": 0, "padding": 4, "rowPadding": 3.5, "symbolOffset": 8, "labelOffset": 14, "strokeColor": "black", "fillColor": "white", "cornerRadius": 3}}
 }},
{"data": {"name": "pts"}, "transform": [{"filter": "datum.p == 1"}],
 "mark": {"type": "point", "opacity": 0},
 "encoding": {
  "x": {"field": "r", "type": "quantitative", "axis": {"orient": "top", "values": [0,0.1,0.2,0.3,0.4,0.5,0.6,0.7,0.8,0.9,1,1.1,1.2,1.3,1.4,1.5,1.6,1.7,1.8,1.9,2,2.1,2.2,2.3,2.4,2.5,2.6,2.7,2.8,2.9,3], "labels": false, "title": null, "tickSize": {"condition": {"test": "abs(datum.value*2-round(datum.value*2))<0.001", "value": -6}, "value": -3}}},
  "y": {"field": "l", "type": "quantitative", "axis": {"orient": "right", "values": [-1,-0.69897,-0.52288,-0.39794,-0.30103,-0.22185,-0.1549,-0.09691,-0.04576,0,0.30103,0.47712,0.60206,0.69897,0.77815,0.8451,0.90309,0.95424,1,1.30103,1.47712,1.60206,1.69897,1.77815,1.8451,1.90309,1.95424,2,2.30103,2.47712,2.60206,2.69897,2.77815,2.8451,2.90309,2.95424,3,3.30103,3.47712,3.60206,3.69897,3.77815,3.8451,3.90309,3.95424,4], "labels": false, "title": null, "tickSize": {"condition": {"test": "abs(datum.value-round(datum.value))<0.001", "value": -6}, "value": -3}}}
 }},
{"data": {"name": "ra"},
 "mark": {"type": "trail", "color": "#ff0000"},
 "encoding": {
  "x": {"field": "r", "type": "quantitative", "axis": null},
  "y": {"field": "l", "type": "quantitative", "axis": null},
  "size": {"field": "w", "type": "quantitative", "scale": null, "legend": null},
  "order": {"field": "o", "type": "quantitative"}
 }},
{"data": {"name": "ga"},
 "mark": {"type": "trail", "color": "#008000"},
 "encoding": {
  "x": {"field": "r", "type": "quantitative", "axis": null},
  "y": {"field": "l", "type": "quantitative", "axis": null},
  "size": {"field": "w", "type": "quantitative", "scale": null, "legend": null},
  "order": {"field": "o", "type": "quantitative"}
 }},
{"data": {"name": "gh"},
 "mark": {"type": "point", "shape": "M0,-1L0.55,1L-0.55,1Z", "filled": true, "size": 49, "color": "#008000", "opacity": 1},
 "encoding": {
  "x": {"field": "r", "type": "quantitative", "axis": null},
  "y": {"field": "l", "type": "quantitative", "axis": null}
 }},
{"data": {"name": "txt"},
 "mark": {"type": "text", "align": "left", "baseline": "middle", "font": "Liberation Serif", "fontSize": 13, "color": "black"},
 "encoding": {
  "x": {"field": "r", "type": "quantitative", "axis": null},
  "y": {"field": "l", "type": "quantitative", "axis": null},
  "text": {"field": "t"}
 }}
]
},
{
"width": 334, "height": 140,
"resolve": {"axis": {"x": "independent", "y": "independent"}},
"layer": [
{"data": {"name": "pts"}, "transform": [{"filter": "datum.p == 2"}],
 "mark": {"type": "point", "filled": true, "size": 18, "opacity": 1, "strokeWidth": 0},
 "encoding": {
  "x": {"field": "r", "type": "quantitative", "scale": {"domain": [0, 3], "nice": false, "zero": false},
        "axis": {"orient": "bottom", "values": [0,0.1,0.2,0.3,0.4,0.5,0.6,0.7,0.8,0.9,1,1.1,1.2,1.3,1.4,1.5,1.6,1.7,1.8,1.9,2,2.1,2.2,2.3,2.4,2.5,2.6,2.7,2.8,2.9,3], "labels": false, "title": null,
                 "tickSize": {"condition": {"test": "abs(datum.value*2-round(datum.value*2))<0.001", "value": -6}, "value": -3}}},
  "y": {"field": "l", "type": "quantitative", "scale": {"domain": [-1, 4], "nice": false, "zero": false},
        "axis": {"orient": "left", "values": [-1,-0.69897,-0.52288,-0.39794,-0.30103,-0.22185,-0.1549,-0.09691,-0.04576,0,0.30103,0.47712,0.60206,0.69897,0.77815,0.8451,0.90309,0.95424,1,1.30103,1.47712,1.60206,1.69897,1.77815,1.8451,1.90309,1.95424,2,2.30103,2.47712,2.60206,2.69897,2.77815,2.8451,2.90309,2.95424,3,3.30103,3.47712,3.60206,3.69897,3.77815,3.8451,3.90309,3.95424,4],
                 "title": "log₁₀(ρDM) [10⁶M⊙/kpc³]", "titlePadding": 8, "titleFontSize": 12,
                 "labelExpr": "abs(datum.value-round(datum.value))<0.001 ? (round(datum.value)==-1?'10⁻¹':round(datum.value)==0?'10⁰':round(datum.value)==1?'10¹':round(datum.value)==2?'10²':round(datum.value)==3?'10³':'') : ''",
                 "labelPadding": 9,
                 "tickSize": {"condition": {"test": "abs(datum.value-round(datum.value))<0.001", "value": -6}, "value": -3}}},
  "color": {"field": "s", "type": "nominal", "scale": {"domain": ["A", "B"], "range": ["#ff0000", "#0000ff"]}, "legend": null}
 }},
{"data": {"name": "pts"}, "transform": [{"filter": "datum.p == 2"}],
 "mark": {"type": "point", "opacity": 0},
 "encoding": {
  "x": {"field": "r", "type": "quantitative", "axis": {"orient": "top", "values": [0,0.1,0.2,0.3,0.4,0.5,0.6,0.7,0.8,0.9,1,1.1,1.2,1.3,1.4,1.5,1.6,1.7,1.8,1.9,2,2.1,2.2,2.3,2.4,2.5,2.6,2.7,2.8,2.9,3], "labels": false, "title": null, "tickSize": {"condition": {"test": "abs(datum.value*2-round(datum.value*2))<0.001", "value": -6}, "value": -3}}},
  "y": {"field": "l", "type": "quantitative", "axis": {"orient": "right", "values": [-1,-0.69897,-0.52288,-0.39794,-0.30103,-0.22185,-0.1549,-0.09691,-0.04576,0,0.30103,0.47712,0.60206,0.69897,0.77815,0.8451,0.90309,0.95424,1,1.30103,1.47712,1.60206,1.69897,1.77815,1.8451,1.90309,1.95424,2,2.30103,2.47712,2.60206,2.69897,2.77815,2.8451,2.90309,2.95424,3,3.30103,3.47712,3.60206,3.69897,3.77815,3.8451,3.90309,3.95424,4], "labels": false, "title": null, "tickSize": {"condition": {"test": "abs(datum.value-round(datum.value))<0.001", "value": -6}, "value": -3}}}
 }}
]
},
{
"width": 334, "height": 140,
"resolve": {"axis": {"x": "independent", "y": "independent"}},
"layer": [
{"data": {"name": "pts"}, "transform": [{"filter": "datum.p == 3"}],
 "mark": {"type": "point", "filled": true, "size": 18, "opacity": 1, "strokeWidth": 0},
 "encoding": {
  "x": {"field": "r", "type": "quantitative", "scale": {"domain": [0, 3], "nice": false, "zero": false},
        "axis": {"orient": "bottom", "values": [0,0.1,0.2,0.3,0.4,0.5,0.6,0.7,0.8,0.9,1,1.1,1.2,1.3,1.4,1.5,1.6,1.7,1.8,1.9,2,2.1,2.2,2.3,2.4,2.5,2.6,2.7,2.8,2.9,3], "title": "radius (kpc)", "titlePadding": -1,
                 "labelExpr": "abs(datum.value*2-round(datum.value*2))<0.001 ? format(datum.value, '.1f') : ''",
                 "labelPadding": 3,
                 "tickSize": {"condition": {"test": "abs(datum.value*2-round(datum.value*2))<0.001", "value": -6}, "value": -3}}},
  "y": {"field": "l", "type": "quantitative", "scale": {"domain": [-1, 4], "nice": false, "zero": false},
        "axis": {"orient": "left", "values": [-1,-0.69897,-0.52288,-0.39794,-0.30103,-0.22185,-0.1549,-0.09691,-0.04576,0,0.30103,0.47712,0.60206,0.69897,0.77815,0.8451,0.90309,0.95424,1,1.30103,1.47712,1.60206,1.69897,1.77815,1.8451,1.90309,1.95424,2,2.30103,2.47712,2.60206,2.69897,2.77815,2.8451,2.90309,2.95424,3,3.30103,3.47712,3.60206,3.69897,3.77815,3.8451,3.90309,3.95424,4], "title": null,
                 "labelExpr": "abs(datum.value-round(datum.value))<0.001 ? (round(datum.value)==-1?'10⁻¹':round(datum.value)==0?'10⁰':round(datum.value)==1?'10¹':round(datum.value)==2?'10²':round(datum.value)==3?'10³':'') : ''",
                 "labelPadding": 9,
                 "tickSize": {"condition": {"test": "abs(datum.value-round(datum.value))<0.001", "value": -6}, "value": -3}}},
  "color": {"field": "s", "type": "nominal", "scale": {"domain": ["A", "B"], "range": ["#ff0000", "#0000ff"]}, "legend": null}
 }},
{"data": {"name": "pts"}, "transform": [{"filter": "datum.p == 3"}],
 "mark": {"type": "point", "opacity": 0},
 "encoding": {
  "x": {"field": "r", "type": "quantitative", "axis": {"orient": "top", "values": [0,0.1,0.2,0.3,0.4,0.5,0.6,0.7,0.8,0.9,1,1.1,1.2,1.3,1.4,1.5,1.6,1.7,1.8,1.9,2,2.1,2.2,2.3,2.4,2.5,2.6,2.7,2.8,2.9,3], "labels": false, "title": null, "tickSize": {"condition": {"test": "abs(datum.value*2-round(datum.value*2))<0.001", "value": -6}, "value": -3}}},
  "y": {"field": "l", "type": "quantitative", "axis": {"orient": "right", "values": [-1,-0.69897,-0.52288,-0.39794,-0.30103,-0.22185,-0.1549,-0.09691,-0.04576,0,0.30103,0.47712,0.60206,0.69897,0.77815,0.8451,0.90309,0.95424,1,1.30103,1.47712,1.60206,1.69897,1.77815,1.8451,1.90309,1.95424,2,2.30103,2.47712,2.60206,2.69897,2.77815,2.8451,2.90309,2.95424,3,3.30103,3.47712,3.60206,3.69897,3.77815,3.8451,3.90309,3.95424,4], "labels": false, "title": null, "tickSize": {"condition": {"test": "abs(datum.value-round(datum.value))<0.001", "value": -6}, "value": -3}}}
 }}
]
}
]
}
